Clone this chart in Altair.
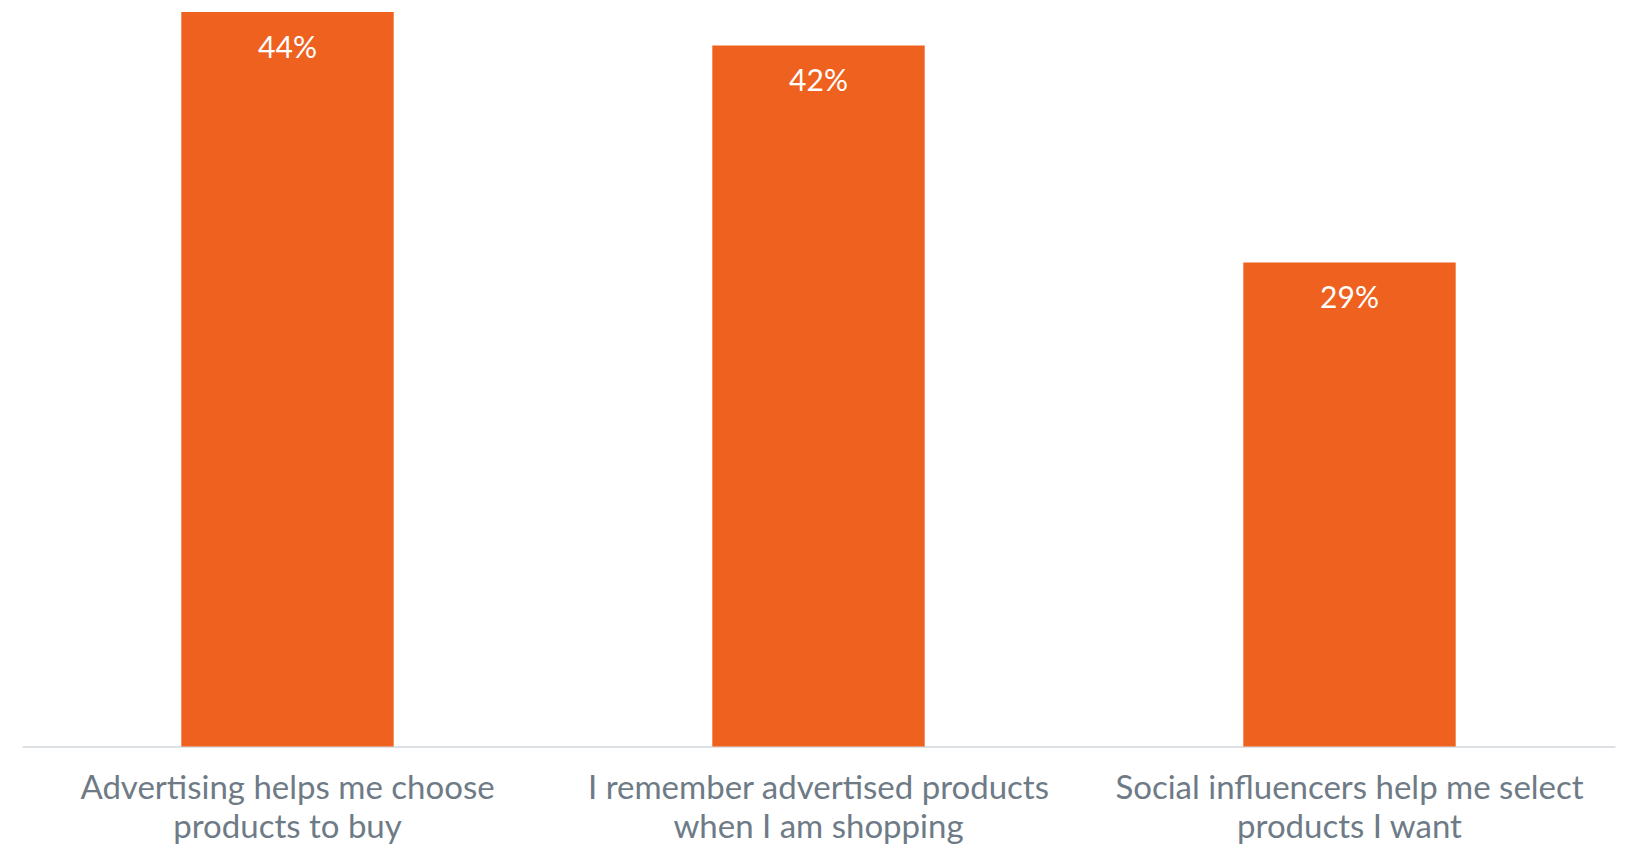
import altair as alt
import pandas as pd

categories = [
    ["Advertising helps me choose", "products to buy"],
    ["I remember advertised products", "when I am shopping"],
    ["Social influencers help me select", "products I want"],
]
keys = ["A", "B", "C"]
values = [44, 42, 29]
labels = ["44%", "42%", "29%"]

df = pd.DataFrame({"key": keys, "value": values, "label": labels})
mapping = ", ".join(
    "'%s': [%s]" % (k, ", ".join("'%s'" % line for line in c))
    for k, c in zip(keys, categories)
)
label_expr = "{" + mapping + "}[datum.value]"

FONT = "Lato"

base = alt.Chart(df).encode(
    x=alt.X("key:N", sort=keys,
            scale=alt.Scale(paddingInner=0.6, paddingOuter=0.3),
            axis=alt.Axis(title=None, labelAngle=0, ticks=False, domain=True,
                          domainColor="#dde1e6", domainWidth=2,
                          labelExpr=label_expr, labelFont=FONT, labelFontSize=33,
                          labelColor="#6e7b86", labelBaseline="alphabetic",
                          labelPadding=52, labelLineHeight=39, labelLimit=600)),
)

bars = base.mark_bar(color="#EF611E").encode(
    y=alt.Y("value:Q", scale=alt.Scale(domain=[0, 44], nice=False),
            axis=None)
)

text = base.mark_text(color="white", font=FONT, fontSize=30,
                      baseline="alphabetic", dy=46).encode(
    y=alt.Y("value:Q"),
    text="label:N",
)

chart = (bars + text).properties(
    width=1593, height=734.5,
    background="white",
    autosize=alt.AutoSizeParams(type="none"),
    padding={"left": 14, "top": 4, "right": 10, "bottom": 100},
).configure_view(strokeWidth=0, stroke="transparent")

chart.save("out.html", embed_options={"renderer": "svg", "actions": False})
